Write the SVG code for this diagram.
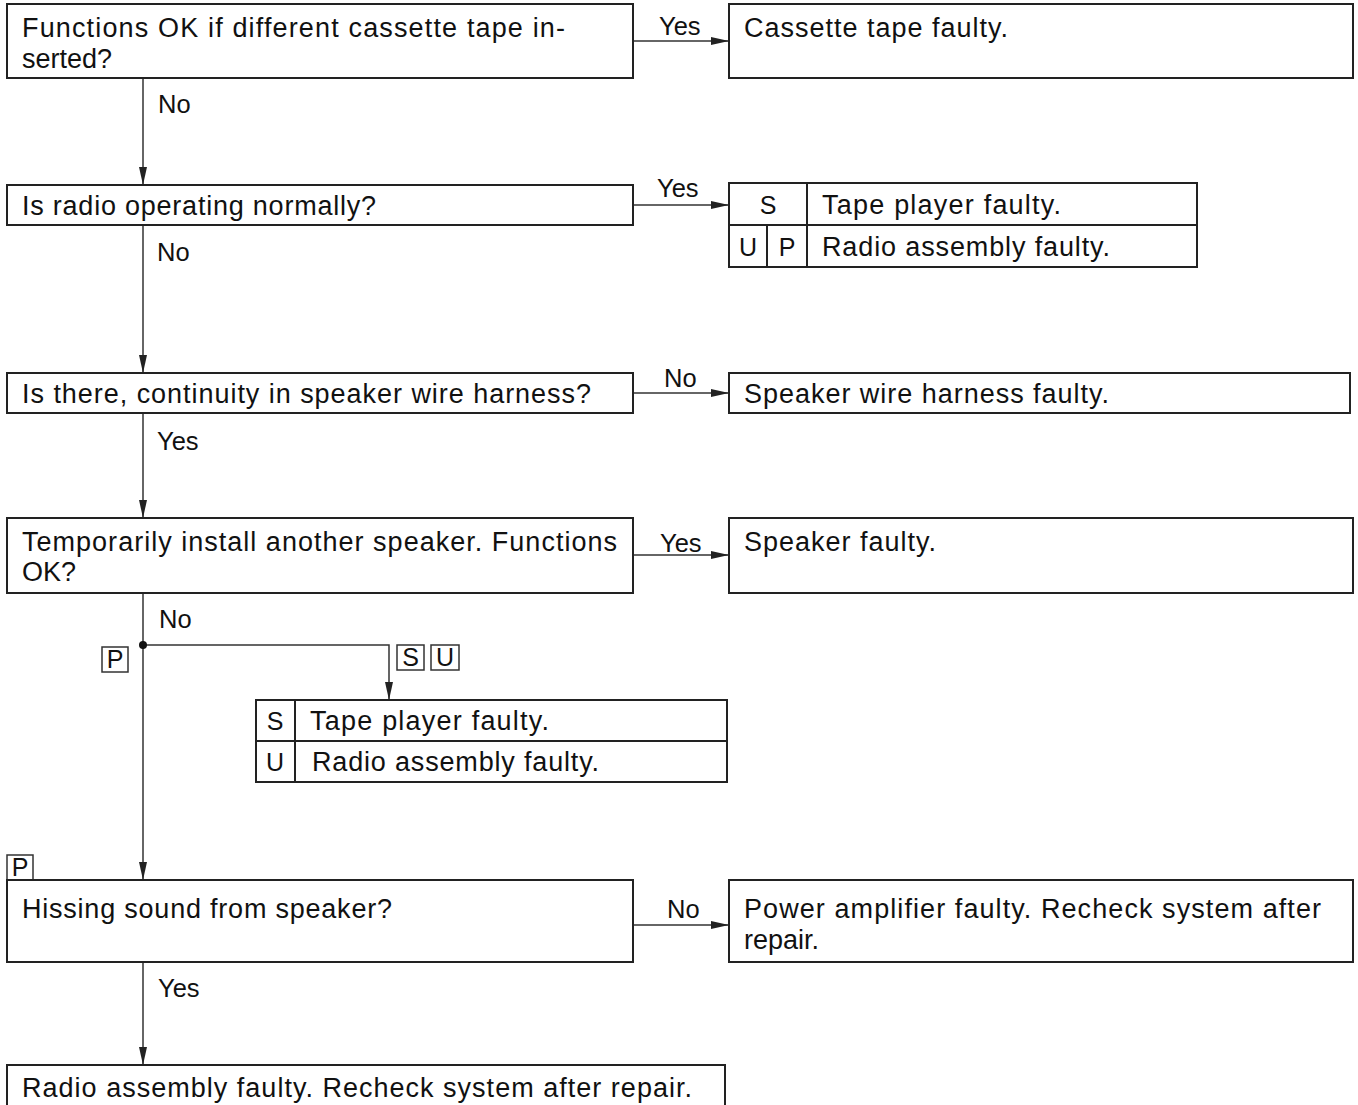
<svg xmlns="http://www.w3.org/2000/svg" width="1358" height="1105" viewBox="0 0 1358 1105">
<defs>
<marker id="arr" viewBox="0 0 18 8" refX="18" refY="4" markerWidth="18" markerHeight="8" markerUnits="userSpaceOnUse" orient="auto">
<path d="M0,0 L18,4 L0,8 Z" fill="#222"/>
</marker>
<style>
.box{fill:#fff;stroke:#222;stroke-width:2}
.tag{fill:#fff;stroke:#333;stroke-width:1.5}
.ln{fill:none;stroke:#333;stroke-width:1.5}
.t{font-family:"Liberation Sans",Arial,sans-serif;font-size:27px;fill:#111}
.l{font-family:"Liberation Sans",Arial,sans-serif;font-size:25.5px;fill:#111}
.g{font-family:"Liberation Sans",Arial,sans-serif;font-size:25px;fill:#111}
.c{text-anchor:middle}
</style>
</defs>
<rect width="1358" height="1105" fill="#fff"/>
<g id="connectors">
<line class="ln" x1="633" y1="41" x2="729" y2="41" marker-end="url(#arr)"/>
<line class="ln" x1="143" y1="78" x2="143" y2="185" marker-end="url(#arr)"/>
<line class="ln" x1="633" y1="205" x2="729" y2="205" marker-end="url(#arr)"/>
<line class="ln" x1="143" y1="225" x2="143" y2="373" marker-end="url(#arr)"/>
<line class="ln" x1="633" y1="393" x2="729" y2="393" marker-end="url(#arr)"/>
<line class="ln" x1="143" y1="413" x2="143" y2="518" marker-end="url(#arr)"/>
<line class="ln" x1="633" y1="555" x2="729" y2="555" marker-end="url(#arr)"/>
<line class="ln" x1="143" y1="593" x2="143" y2="880" marker-end="url(#arr)"/>
<polyline class="ln" points="143,645 389,645 389,700" marker-end="url(#arr)"/>
<circle cx="143" cy="645" r="4" fill="#111"/>
<line class="ln" x1="633" y1="925" x2="729" y2="925" marker-end="url(#arr)"/>
<line class="ln" x1="143" y1="962" x2="143" y2="1065" marker-end="url(#arr)"/>
<text class="l" x="659" y="35">Yes</text>
<text class="l" x="158" y="113">No</text>
<text class="l" x="657" y="197">Yes</text>
<text class="l" x="157" y="261">No</text>
<text class="l" x="664" y="387">No</text>
<text class="l" x="157" y="450">Yes</text>
<text class="l" x="660" y="552">Yes</text>
<text class="l" x="159" y="628">No</text>
<text class="l" x="667" y="918">No</text>
<text class="l" x="158" y="997">Yes</text>
<rect class="tag" x="102" y="647" width="26" height="25"/>
<text class="g c" x="115" y="668">P</text>
<rect class="tag" x="397" y="645" width="27" height="25"/>
<text class="g c" x="410.5" y="666">S</text>
<rect class="tag" x="431" y="645" width="28" height="25"/>
<text class="g c" x="445" y="666">U</text>
</g>
<g id="q1">
<rect class="box" x="7" y="4" width="626" height="74"/>
<text class="t" x="22" y="37" textLength="543" lengthAdjust="spacing">Functions OK if different cassette tape in-</text>
<text class="t" x="22" y="68">serted?</text>
</g>
<g id="r1">
<rect class="box" x="729" y="4" width="624" height="74"/>
<text class="t" x="744" y="37" textLength="264" lengthAdjust="spacing">Cassette tape faulty.</text>
</g>
<g id="q2">
<rect class="box" x="7" y="185" width="626" height="40"/>
<text class="t" x="22" y="215" textLength="354" lengthAdjust="spacing">Is radio operating normally?</text>
</g>
<g id="r2">
<rect class="box" x="729" y="183" width="468" height="84"/>
<line class="box" x1="729" y1="225" x2="1197" y2="225"/>
<line class="box" x1="807" y1="183" x2="807" y2="267"/>
<line class="box" x1="767" y1="225" x2="767" y2="267"/>
<text class="g c" x="768" y="214">S</text>
<text class="t" x="822" y="214" textLength="239" lengthAdjust="spacing">Tape player faulty.</text>
<text class="g c" x="748" y="256">U</text>
<text class="g c" x="787" y="256">P</text>
<text class="t" x="822" y="256" textLength="288" lengthAdjust="spacing">Radio assembly faulty.</text>
</g>
<g id="q3">
<rect class="box" x="7" y="373" width="626" height="40"/>
<text class="t" x="22" y="403" textLength="569" lengthAdjust="spacing">Is there, continuity in speaker wire harness?</text>
</g>
<g id="r3">
<rect class="box" x="729" y="373" width="621" height="40"/>
<text class="t" x="744" y="403" textLength="365" lengthAdjust="spacing">Speaker wire harness faulty.</text>
</g>
<g id="q4">
<rect class="box" x="7" y="518" width="626" height="75"/>
<text class="t" x="22" y="551" textLength="595" lengthAdjust="spacing">Temporarily install another speaker. Functions</text>
<text class="t" x="22" y="581">OK?</text>
</g>
<g id="r4">
<rect class="box" x="729" y="518" width="624" height="75"/>
<text class="t" x="744" y="551" textLength="192" lengthAdjust="spacing">Speaker faulty.</text>
</g>
<g id="r5">
<rect class="box" x="256" y="700" width="471" height="82"/>
<line class="box" x1="256" y1="741" x2="727" y2="741"/>
<line class="box" x1="295" y1="700" x2="295" y2="782"/>
<text class="g c" x="275" y="730">S</text>
<text class="t" x="310" y="730" textLength="239" lengthAdjust="spacing">Tape player faulty.</text>
<text class="g c" x="275" y="771">U</text>
<text class="t" x="312" y="771" textLength="287" lengthAdjust="spacing">Radio assembly faulty.</text>
</g>
<g id="tagP2">
<rect class="tag" x="7" y="855" width="26" height="25"/>
<text class="g c" x="20" y="876">P</text>
</g>
<g id="q5">
<rect class="box" x="7" y="880" width="626" height="82"/>
<text class="t" x="22" y="918" textLength="370" lengthAdjust="spacing">Hissing sound from speaker?</text>
</g>
<g id="r6">
<rect class="box" x="729" y="880" width="624" height="82"/>
<text class="t" x="744" y="918" textLength="577" lengthAdjust="spacing">Power amplifier faulty. Recheck system after</text>
<text class="t" x="744" y="949">repair.</text>
</g>
<g id="r7">
<rect class="box" x="7" y="1065" width="718" height="50"/>
<text class="t" x="22" y="1097" textLength="670" lengthAdjust="spacing">Radio assembly faulty. Recheck system after repair.</text>
</g>
</svg>
